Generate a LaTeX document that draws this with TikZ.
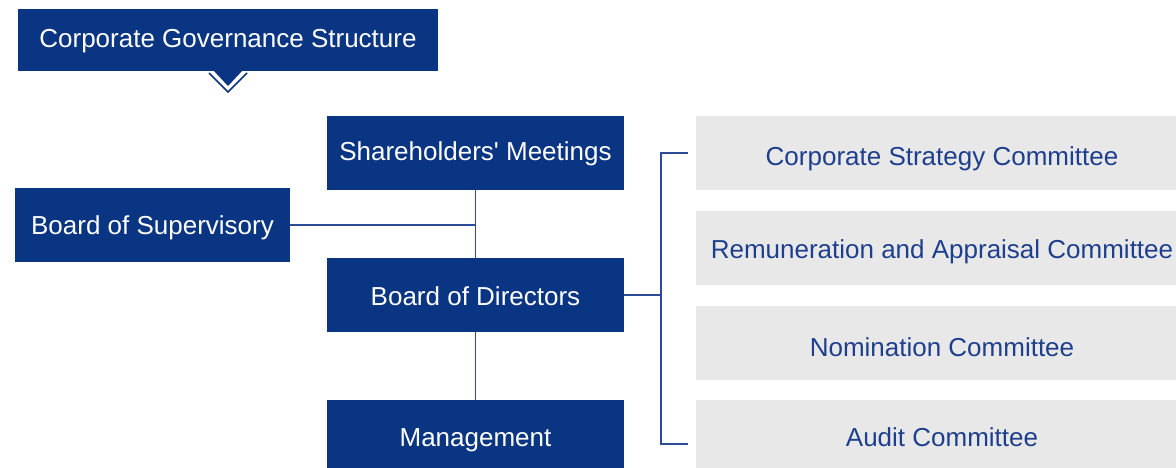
\documentclass[tikz,border=0pt]{standalone}
\usepackage{fontspec}
\setmainfont{Liberation Sans}
\definecolor{navy}{HTML}{0A3582}
\definecolor{linecol}{HTML}{2C4C97}
\definecolor{greybox}{HTML}{E8E8E8}
\definecolor{comtext}{HTML}{1E3F8E}
\begin{document}
\begin{tikzpicture}[x=1pt,y=-1pt,
  toff/.style={text height={#1}, text depth=0pt},
  bluebox/.style={fill=navy,text=white,inner sep=0pt,font=\fontsize{26}{30}\selectfont},
  greyitem/.style={fill=greybox,text=comtext,inner sep=0pt,minimum width=492pt,minimum height=74pt,font=\fontsize{26}{30}\selectfont},
  conn/.style={draw=linecol,line width=1.8pt}]
\clip (0,0) rectangle (1176,468);
\fill[white] (0,0) rectangle (1176,468);
\node[bluebox,toff=14.6pt,minimum width=420pt,minimum height=62pt] (title) at (228,40) {Corporate Governance Structure};
\fill[navy] (213,70) -- (243,70) -- (228,86) -- cycle;
\draw[navy,line width=1.5pt] (209,73) -- (228,92) -- (247,73);
\node[bluebox,toff=15.6pt,minimum width=297pt,minimum height=74pt] (sh) at (475.5,153) {Shareholders\textquotesingle\ Meetings};
\node[bluebox,toff=18.6pt,minimum width=275pt,minimum height=74pt] (sup) at (152.5,225) {Board of Supervisory};
\node[bluebox,toff=20.6pt,minimum width=297pt,minimum height=74pt] (dir) at (475.5,295) {Board of Directors};
\node[bluebox,toff=18.6pt,minimum width=297pt,minimum height=74pt] (mg) at (475.5,437) {Management};
\node[greyitem,toff=25.6pt] (c1) at (942,153) {Corporate Strategy Committee};
\node[greyitem,toff=21.6pt] (c2) at (942,247.5) {Remuneration and Appraisal Committee};
\node[greyitem,toff=28.6pt] (c3) at (942,342.5) {Nomination Committee};
\node[greyitem,toff=18.6pt] (c4) at (942,437) {Audit Committee};
\draw[conn] (sh.south) -- (dir.north);
\draw[conn] (sup.east) -- (sup.east -| sh.south);
\draw[conn] (dir.south) -- (mg.north);
\coordinate (bt) at (661,153);
\coordinate (bb) at (661,444);
\coordinate (tt) at (688,153);
\coordinate (tb) at (688,444);
\draw[conn] (dir.east) -- (dir.east -| bt);
\draw[conn] (tt) -- (bt) -- (bb) -- (tb);
\end{tikzpicture}
\end{document}
